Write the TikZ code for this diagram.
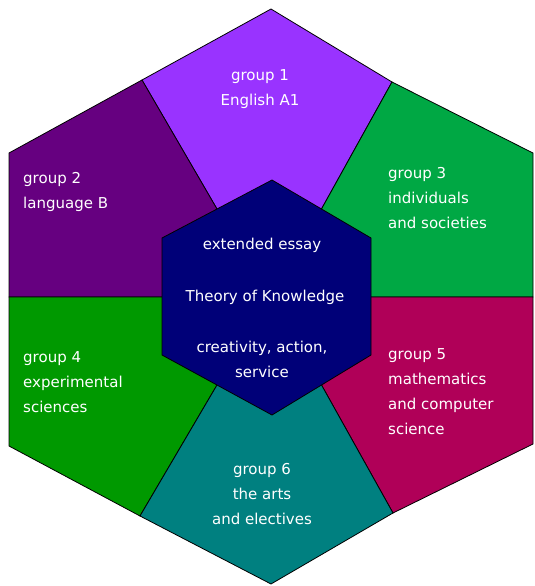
\documentclass[tikz,border=0pt]{standalone}
\usepackage{fontspec}
\usetikzlibrary{calc}
\setmainfont{DejaVu Sans}
\definecolor{grpone}{HTML}{9933FF}
\definecolor{grptwo}{HTML}{660080}
\definecolor{grpthree}{HTML}{00A844}
\definecolor{grpfour}{HTML}{009900}
\definecolor{grpfive}{HTML}{B00058}
\definecolor{grpsix}{HTML}{008080}
\definecolor{core}{HTML}{000078}
\begin{document}
\begin{tikzpicture}[x=1pt, y=-1pt,
  region/.style={draw=black, line width=0.8pt, line join=miter},
  lbl/.style={text=white, font=\fontsize{15}{25}\selectfont, inner sep=0pt},
  lblc/.style={lbl, align=center},
  lbll/.style={lbl, align=left, anchor=west}]
\useasboundingbox (0,0) rectangle (535,586);

% --- outer hexagon corners and edge midpoints ---
\coordinate (oT)  at (271,9);
\coordinate (oUR) at (533,153);
\coordinate (oLR) at (533,444);
\coordinate (oB)  at (271,584);
\coordinate (oLL) at (9,446);
\coordinate (oUL) at (9,153);
\coordinate (mUL) at (142,80);
\coordinate (mUR) at (392,82);
\coordinate (mL)  at (9,297);
\coordinate (mR)  at (533,297);
\coordinate (mLL) at (140,516);
\coordinate (mLR) at (393,513);

% --- inner hexagon corners and edge midpoints ---
\coordinate (ctr) at (268,297);
\coordinate (iT)  at (272,180);
\coordinate (iUR) at (371,238);
\coordinate (iLR) at (371,355);
\coordinate (iB)  at (272,415);
\coordinate (iLL) at (162,355);
\coordinate (iUL) at (162,238);
\coordinate (nUL) at ($(iT)!0.5!(iUL)$);
\coordinate (nUR) at ($(iT)!0.5!(iUR)$);
\coordinate (nL)  at (162,297);
\coordinate (nR)  at (371,297);
\coordinate (nLL) at ($(iB)!0.5!(iLL)$);
\coordinate (nLR) at ($(iB)!0.5!(iLR)$);

% --- the six group regions (run under the core) ---
\filldraw[region, fill=grpone]   (oT) -- (mUR) -- (nUR) -- (ctr) -- (nUL) -- (mUL) -- cycle;
\filldraw[region, fill=grptwo]   (oUL) -- (mUL) -- (nUL) -- (ctr) -- (nL) -- (mL) -- cycle;
\filldraw[region, fill=grpthree] (oUR) -- (mUR) -- (nUR) -- (ctr) -- (nR) -- (mR) -- cycle;
\filldraw[region, fill=grpfour]  (oLL) -- (mL) -- (nL) -- (ctr) -- (nLL) -- (mLL) -- cycle;
\filldraw[region, fill=grpfive]  (oLR) -- (mR) -- (nR) -- (ctr) -- (nLR) -- (mLR) -- cycle;
\filldraw[region, fill=grpsix]   (oB) -- (mLL) -- (nLL) -- (ctr) -- (nLR) -- (mLR) -- cycle;

% --- core hexagon ---
\filldraw[region, fill=core] (iT) -- (iUR) -- (iLR) -- (iB) -- (iLL) -- (iUL) -- cycle;

% --- labels ---
\node[lblc] (gone)   at (260,89)  {group 1\\English A1};
\node[lbll] (gtwo)   at (23,192)  {group 2\\language B};
\node[lbll] (gthree) at (388,198) {group 3\\individuals\\and societies};
\node[lbll] (gfour)  at (23,382)  {group 4\\experimental\\sciences};
\node[lbll] (gfive)  at (388,392) {group 5\\mathematics\\and computer\\science};
\node[lblc] (gsix)   at (262,494) {group 6\\the arts\\and electives};

\node[lblc] (essay)  at (262,245) {extended essay};
\node[lblc] (tok)    at (265,297) {Theory of Knowledge};
\node[lblc] (cas)    at (262,359) {creativity, action,\\service};
\end{tikzpicture}
\end{document}
